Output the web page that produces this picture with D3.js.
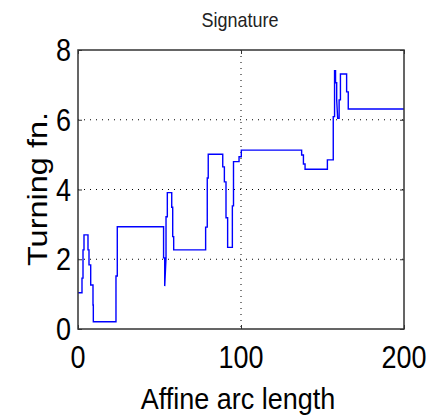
<!DOCTYPE html>
<html>
<head>
<meta charset="utf-8">
<script src="https://cdn.jsdelivr.net/npm/d3@7"></script>
<style>
  body { margin: 0; background: #fff; }
  text { font-family: "Liberation Sans", Arial, sans-serif; fill: #000; }
</style>
</head>
<body>
<script>
// step vertices of the turning function
var arcLen = [0, 2.45, 2.45, 3.07, 3.07, 3.68, 3.68, 6.13, 6.13, 6.75, 6.75, 7.79, 7.79, 9.2, 9.2, 9.4, 9.4,
  23.3, 23.3, 24.1, 24.1, 52.5, 52.5, 53.2, 53.2, 54.0, 54.0, 54.8, 54.8, 57.5, 57.5, 58.1, 58.1, 58.7, 58.7,
  78.3, 78.3, 79.3, 79.3, 79.9, 79.9, 88.8, 88.8, 89.8, 89.8, 90.8, 90.8, 91.8, 91.8, 94.7, 94.7, 95.4, 95.4,
  98.8, 98.8, 100.2, 100.2, 137.2, 137.2, 138.3, 138.3, 139.3, 139.3, 153, 153, 156.6, 156.6, 157.4, 157.4,
  158, 158, 158.7, 158.7, 159.3, 160.2, 160.2, 161, 161, 164.8, 164.8, 165.8, 165.8, 200];
var turnFn = [1.04, 1.04, 1.46, 1.46, 2.27, 2.27, 2.70, 2.70, 2.27, 2.27, 1.84, 1.84, 1.26, 1.26, 0.69, 0.69, 0.21,
  0.21, 1.52, 1.52, 2.93, 2.93, 2.04, 2.04, 1.23, 2.04, 3.22, 3.22, 3.91, 3.91, 3.49, 3.49, 2.65, 2.65, 2.27,
  2.27, 2.92, 2.92, 4.33, 4.33, 5.01, 5.01, 4.65, 4.65, 4.22, 4.22, 3.19, 3.19, 2.34, 2.34, 3.53, 3.53, 4.80,
  4.80, 4.94, 4.94, 5.13, 5.13, 4.99, 4.99, 4.73, 4.73, 4.58, 4.58, 4.85, 4.85, 6.09, 6.09, 7.41,
  7.41, 7.06, 7.06, 6.57, 6.04, 6.04, 6.57, 6.57, 7.31, 7.31, 6.80, 6.80, 6.31, 6.31];

var xTicks = [0, 100, 200];
var yTicks = [0, 2, 4, 6, 8];
var xGrid = [100];
var yGrid = [2, 4, 6];

// plot box (don't call these top/left, window.top is read only)
var boxL = 78, boxR = 404, boxT = 50, boxB = 329;

var svg = d3.select("body")
            .append("svg")
            .attr("width", 429)
            .attr("height", 416);

var x = d3.scaleLinear().domain([0, 200]).range([boxL, boxR]);
var y = d3.scaleLinear().domain([0, 8]).range([boxB, boxT]);

// dotted grid
svg.selectAll(".gx").data(xGrid).enter()
   .append("line")
   .attr("x1", d => x(d)).attr("x2", d => x(d))
   .attr("y1", boxT).attr("y2", boxB)
   .attr("stroke", "#000")
   .attr("stroke-width", 1)
   .attr("stroke-dasharray", "1,5");

svg.selectAll(".gy").data(yGrid).enter()
   .append("line")
   .attr("x1", boxL).attr("x2", boxR)
   .attr("y1", d => y(d)).attr("y2", d => y(d))
   .attr("stroke", "#000")
   .attr("stroke-width", 1)
   .attr("stroke-dasharray", "1,5");

// the signature itself
var line = d3.line()
             .x(function(d, i) { return x(arcLen[i]); })
             .y(function(d) { return y(d); });

svg.append("path")
   .attr("d", line(turnFn))
   .attr("fill", "none")
   .attr("stroke", "#0000ff")
   .attr("stroke-width", 1.4);

// box with inward ticks on every side
svg.append("rect")
   .attr("x", boxL).attr("y", boxT)
   .attr("width", boxR - boxL).attr("height", boxB - boxT)
   .attr("fill", "none")
   .attr("stroke", "#333")
   .attr("stroke-width", 1.5);

svg.append("g").attr("transform", "translate(0," + boxB + ")")
   .call(d3.axisBottom(x).tickValues(xTicks).tickSize(-4).tickFormat(""))
   .call(g => g.select(".domain").remove());
svg.append("g").attr("transform", "translate(0," + boxT + ")")
   .call(d3.axisTop(x).tickValues(xTicks).tickSize(-4).tickFormat(""))
   .call(g => g.select(".domain").remove());
svg.append("g").attr("transform", "translate(" + boxL + ",0)")
   .call(d3.axisLeft(y).tickValues(yTicks).tickSize(-4).tickFormat(""))
   .call(g => g.select(".domain").remove());
svg.append("g").attr("transform", "translate(" + boxR + ",0)")
   .call(d3.axisRight(y).tickValues(yTicks).tickSize(-4).tickFormat(""))
   .call(g => g.select(".domain").remove());
svg.selectAll(".tick line").attr("stroke", "#333");

// tick labels (picture is stretched vertically, so are the letters)
svg.selectAll(".xl").data(xTicks).enter()
   .append("text")
   .attr("transform", d => "translate(" + x(d) + ",367.5) scale(1,1.15)")
   .attr("text-anchor", "middle")
   .style("font-size", "27px")
   .text(d => d);

svg.selectAll(".yl").data(yTicks).enter()
   .append("text")
   .attr("transform", d => "translate(71," + (y(d) + 11) + ") scale(1,1.15)")
   .attr("text-anchor", "end")
   .style("font-size", "27px")
   .text(d => d);

// title and axis labels
svg.append("text")
   .attr("transform", "translate(240,26.5) scale(1,1.15)")
   .attr("text-anchor", "middle")
   .style("font-size", "18px")
   .style("fill", "#222")
   .text("Signature");

svg.append("text")
   .attr("transform", "translate(238,409) scale(1,1.06)")
   .attr("text-anchor", "middle")
   .style("font-size", "27px")
   .text("Affine arc length");

svg.append("text")
   .attr("transform", "translate(46.5,189) scale(1,1.16) rotate(-90)")
   .attr("text-anchor", "middle")
   .style("font-size", "28px")
   .text("Turning fn.");
</script>
</body>
</html>
